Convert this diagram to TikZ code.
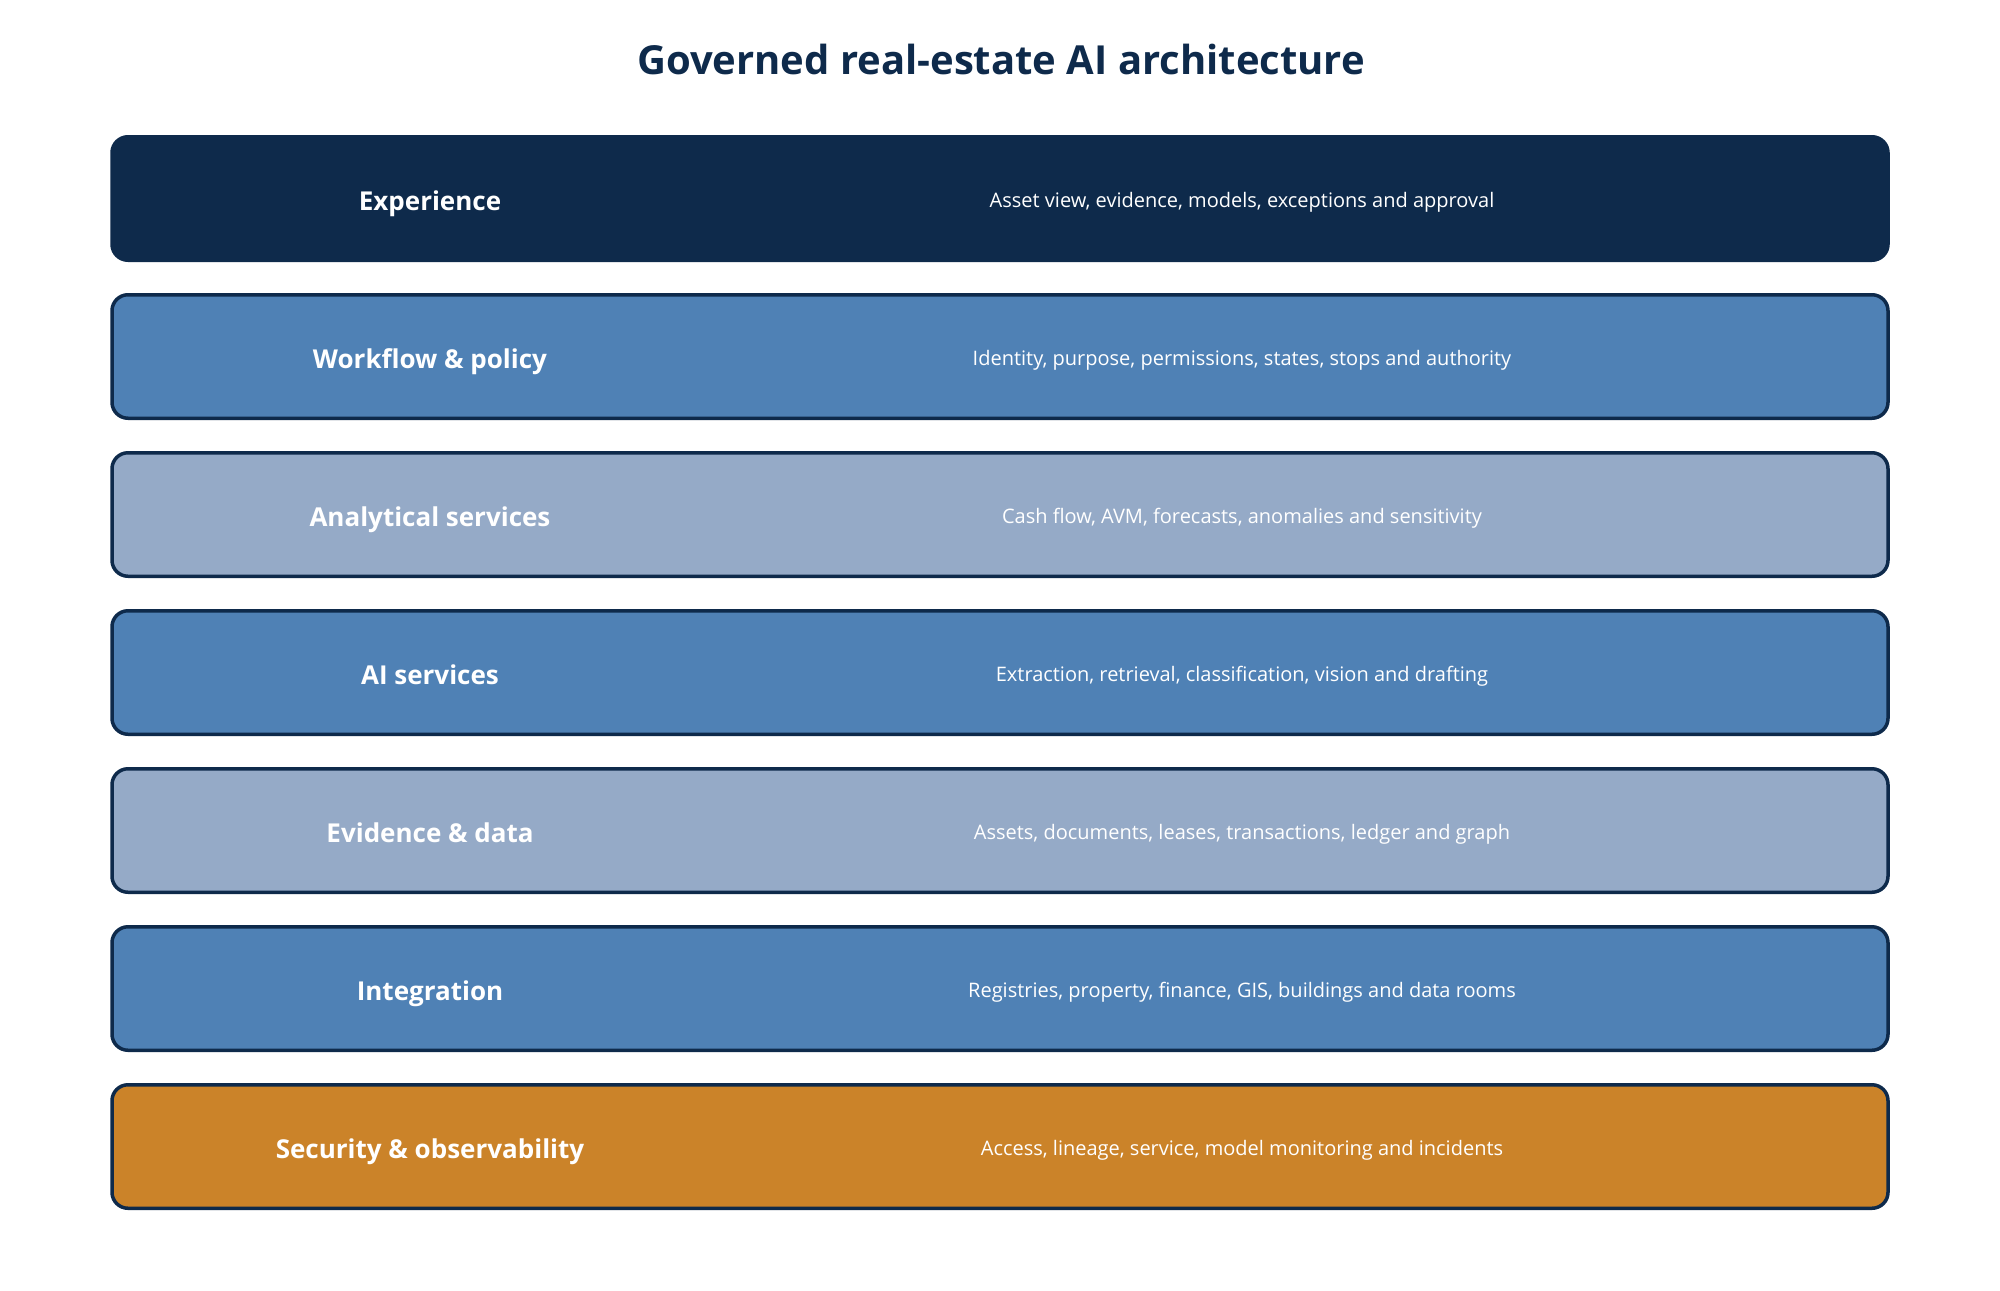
\documentclass[tikz,border=0pt]{standalone}
\usepackage{fontspec}
\setmainfont{Open Sans}

\definecolor{navy}{HTML}{0E2A4B}
\definecolor{midblue}{HTML}{4F81B5}
\definecolor{paleblue}{HTML}{95AAC7}
\definecolor{amber}{HTML}{CB8329}

\begin{document}
\begin{tikzpicture}[x=0.5pt,y=-0.5pt,
    layer/.style={draw=navy,line width=1.75pt,rounded corners=8pt,
      minimum width=888pt,minimum height=61.75pt,inner sep=0pt},
    lbl/.style={anchor=base,text=white,font=\fontsize{13}{15}\selectfont\bfseries},
    desc/.style={anchor=base,text=white,font=\fontsize{10}{12}\selectfont}]

  % canvas (1 unit = 1 px of the 2000 x 1290 frame)
  \useasboundingbox (0,0) rectangle (2000,1290);

  % Title
  \node[anchor=base,text=navy,font=\fontsize{20}{24}\selectfont\bfseries] (title)
    at (1001,74) {Governed real-estate AI architecture};

  %==========================
  % Layer stack (top to bottom)
  %==========================
  \foreach \i/\nm/\ttl/\txt/\col in {
      0/exp/Experience/{Asset view, evidence, models, exceptions and approval}/navy,
      1/wfl/Workflow \& policy/{Identity, purpose, permissions, states, stops and authority}/midblue,
      2/ana/Analytical services/{Cash flow, AVM, forecasts, anomalies and sensitivity}/paleblue,
      3/ais/AI services/{Extraction, retrieval, classification, vision and drafting}/midblue,
      4/evd/Evidence \& data/{Assets, documents, leases, transactions, ledger and graph}/paleblue,
      5/itg/Integration/{Registries, property, finance, GIS, buildings and data rooms}/midblue,
      6/sec/Security \& observability/{Access, lineage, service, model monitoring and incidents}/amber} {
    \pgfmathsetmacro\yc{198.5+158*\i}
    \node[layer,fill=\col] (\nm) at (1000,\yc) {};
    \node[lbl] (\nm-l) at (430,\yc+11.5) {\ttl};
    \node[desc] (\nm-d) at (1242,\yc+8.5) {\txt};
  }

\end{tikzpicture}
\end{document}
